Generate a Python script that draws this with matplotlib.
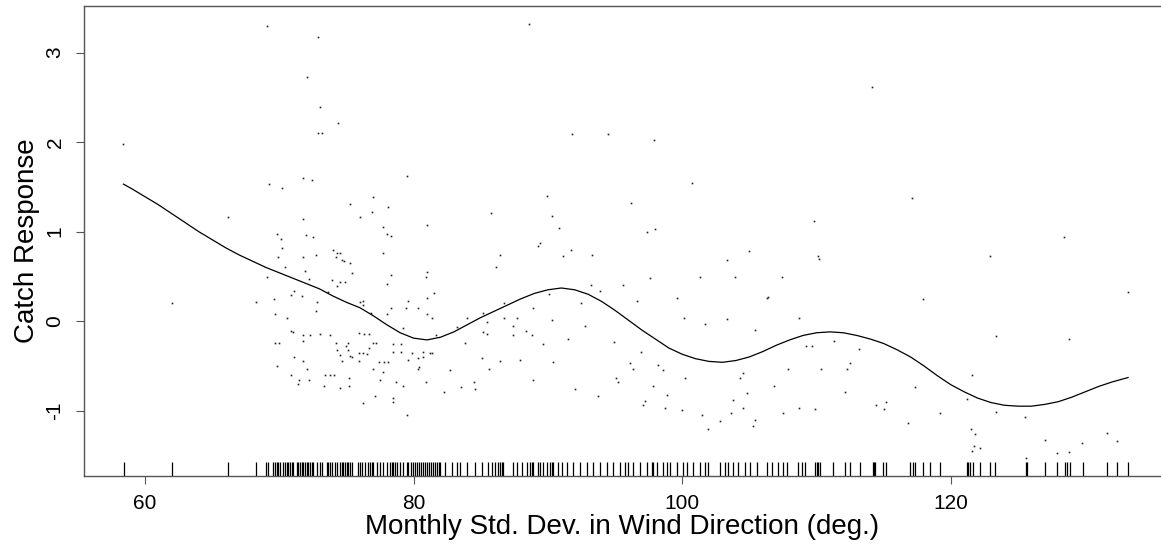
import matplotlib
matplotlib.use("Agg")
import matplotlib.pyplot as plt
import matplotlib.transforms as mtransforms

plt.rcParams['font.family'] = ['Liberation Sans', 'DejaVu Sans']

# fitted smooth
smooth_x = [58.4, 59, 60, 61, 62, 63, 64, 65, 66, 67, 68, 69, 70, 71, 72, 73, 74, 75,
            76, 77, 78, 79, 80, 81, 82, 83, 84, 85, 86, 87, 88, 89, 90, 91, 92, 93, 94,
            95, 96, 97, 98, 99, 100, 101, 102, 103, 104, 105, 106, 107, 108, 109, 110,
            111, 112, 113, 114, 115, 116, 117, 118, 119, 120, 121, 122, 123, 124, 125,
            126, 127, 128, 129, 130, 131, 132, 133.2]
smooth_y = [1.53, 1.48, 1.39, 1.30, 1.20, 1.10, 1.00, 0.91, 0.82, 0.74, 0.67, 0.60,
            0.54, 0.48, 0.42, 0.36, 0.28, 0.21, 0.15, 0.06, -0.04, -0.13, -0.19, -0.21,
            -0.18, -0.12, -0.04, 0.04, 0.11, 0.18, 0.25, 0.31, 0.35, 0.37, 0.35, 0.30,
            0.22, 0.12, 0.01, -0.10, -0.20, -0.30, -0.37, -0.42, -0.45, -0.46, -0.44,
            -0.40, -0.34, -0.27, -0.21, -0.16, -0.13, -0.12, -0.13, -0.16, -0.20, -0.25,
            -0.32, -0.40, -0.50, -0.61, -0.71, -0.79, -0.86, -0.91, -0.94, -0.95, -0.95,
            -0.93, -0.90, -0.85, -0.79, -0.73, -0.68, -0.63]

# partial residuals
resid_x = [58.4, 69.1, 72.9, 72.1, 73.0, 72.9, 73.2, 74.4, 69.2, 70.2, 71.8, 72.4, 66.2,
           75.3, 77.0, 78.1, 76.0, 76.9, 71.8, 69.8, 70.1, 72.0, 72.5, 77.7, 78.0, 70.2,
           69.9, 71.8, 72.7, 74.0, 74.3, 74.5, 74.2, 74.7, 75.3, 77.7, 70.4, 71.9, 79.5,
           78.3, 78.3, 78.0, 71.7, 72.8, 69.6, 68.3, 76.2, 78.3, 79.4, 73.9, 74.5, 74.9,
           74.3, 73.6, 71.1, 70.9, 72.2, 69.1, 74.8, 75.4,
           76.2, 78.0, 69.7, 70.6, 72.7, 71.0, 71.8, 72.3, 73.0, 73.8, 71.8, 69.7, 70.0,
           74.2, 75.1, 75.9, 76.3, 76.7, 77.0, 77.2, 76.7, 78.5, 79.1, 79.2, 75.0, 74.3,
           75.1, 75.9, 76.2, 76.5, 74.5, 75.3, 75.4, 75.9, 74.7, 71.1, 71.8, 69.8, 72.1,
           77.4, 77.8, 78.1, 78.5, 79.1, 77.0, 77.7, 70.9, 73.4, 73.8, 74.1, 72.2, 71.5,
           71.4, 75.2, 77.5, 78.7, 79.2, 73.3, 74.5, 75.2, 77.1, 78.5, 78.5, 76.2, 79.5,
           62.0, 70.9, 76.0, 76.8,
           89.9, 85.8, 81.0, 90.3, 90.8, 89.4, 89.3, 86.4, 91.1, 86.1, 81.0, 80.9, 81.5,
           81.0, 80.3, 86.7, 88.9, 90.1, 79.6,
           81.0, 81.4, 84.0, 85.2, 85.5, 86.7, 87.7, 90.3, 83.2, 85.2, 85.5, 87.4, 88.4,
           88.8, 87.4, 81.7, 83.8, 89.6, 91.5, 79.9, 80.7, 81.2, 81.4, 79.6, 80.3, 80.7,
           85.1, 86.4, 87.9, 90.4, 80.4, 80.3, 82.7, 85.6, 80.9, 84.5, 88.9, 83.5, 84.6,
           82.3,
           88.6, 91.8, 94.5, 97.9, 100.7, 96.2, 97.4, 98.0, 91.7, 93.3, 103.3, 105.0,
           101.3, 103.9, 97.6,
           114.1, 117.1, 109.8, 110.1, 110.2, 122.9, 128.4, 107.4,
           93.2, 106.4, 93.9, 95.6, 96.6, 99.6, 92.5, 100.1, 101.7, 103.3, 105.4, 92.8,
           94.9, 96.9, 96.1, 98.2, 96.3, 95.1, 95.2, 98.6, 98.9, 100.2, 97.8, 93.7, 92.0,
           97.2, 98.7, 97.1, 100.0, 101.5, 102.8, 101.9, 103.8, 104.3, 104.5, 105.4,
           105.3, 103.6, 104.8, 104.5,
           106.3, 117.9, 133.2, 108.7, 123.4, 128.8, 109.2, 109.7, 111.3, 113.2, 107.9,
           110.3, 112.3, 112.5, 106.8, 112.1, 117.3, 121.6, 114.4, 115.2, 115.0, 108.7,
           109.9, 107.5, 119.2, 116.8, 121.2, 123.4, 125.5, 121.5, 121.8, 121.7, 122.2,
           121.6, 127.0, 127.9, 128.8, 129.8, 131.6, 132.4, 125.6]
resid_y = [1.98, 3.30, 3.17, 2.73, 2.39, 2.10, 2.10, 2.21, 1.53, 1.49, 1.60, 1.58, 1.16,
           1.31, 1.39, 1.28, 1.16, 1.22, 1.14, 0.97, 0.92, 0.96, 0.94, 1.05, 0.97, 0.82,
           0.72, 0.72, 0.74, 0.79, 0.76, 0.76, 0.72, 0.68, 0.65, 0.76, 0.60, 0.56, 1.62,
           0.95, 0.51, 0.42, 0.28, 0.21, 0.25, 0.21, 0.23, 0.15, 0.15, 0.46, 0.44, 0.44,
           0.39, 0.32, 0.34, 0.29, 0.47, 0.49, 0.67, 0.54,
           0.18, 0.08, 0.08, 0.03, 0.11, -0.12, -0.16, -0.16, -0.14, -0.16, -0.22, -0.24,
           -0.24, -0.24, -0.24, -0.13, -0.14, -0.14, -0.24, -0.24, -0.30, -0.26, -0.26,
           -0.08, -0.28, -0.32, -0.32, -0.36, -0.36, -0.37, -0.38, -0.39, -0.40, -0.45,
           -0.45, -0.40, -0.45, -0.50, -0.53, -0.46, -0.46, -0.46, -0.34, -0.34, -0.54,
           -0.57, -0.60, -0.60, -0.60, -0.60, -0.66, -0.66, -0.70, -0.63, -0.66, -0.68,
           -0.73, -0.73, -0.75, -0.73, -0.84, -0.86, -0.90, -0.92, -1.05,
           0.20, -0.11, 0.21, 0.09,
           1.40, 1.21, 1.07, 1.17, 1.04, 0.87, 0.84, 0.74, 0.73, 0.60, 0.55, 0.49, 0.31,
           0.26, 0.15, 0.20, 0.15, 0.30, 0.23,
           0.08, 0.04, 0.03, 0.09, -0.01, 0.04, 0.04, 0.01, -0.07, -0.12, -0.14, -0.06,
           -0.11, -0.15, -0.16, -0.15, -0.24, -0.26, -0.20, -0.36, -0.34, -0.36, -0.36,
           -0.43, -0.41, -0.40, -0.41, -0.45, -0.43, -0.46, -0.51, -0.54, -0.55, -0.54,
           -0.68, -0.68, -0.66, -0.74, -0.76, -0.79,
           3.32, 2.09, 2.09, 2.02, 1.54, 1.32, 0.99, 1.03, 0.79, 0.74, 0.68, 0.78, 0.49,
           0.49, 0.48,
           2.61, 1.37, 1.12, 0.73, 0.69, 0.73, 0.94, 0.49,
           0.40, 0.27, 0.34, 0.40, 0.22, 0.26, 0.20, 0.03, -0.03, 0.02, -0.10, -0.05,
           -0.23, -0.35, -0.47, -0.49, -0.54, -0.64, -0.68, -0.55, -0.83, -0.63, -0.72,
           -0.84, -0.76, -0.89, -0.97, -0.94, -0.99, -1.05, -1.12, -1.20, -0.88, -0.63,
           -0.97, -1.11, -1.17, -1.03, -0.80, -0.58,
           0.26, 0.25, 0.33, 0.04, -0.17, -0.20, -0.28, -0.28, -0.22, -0.31, -0.53, -0.54,
           -0.54, -0.47, -0.73, -0.79, -0.74, -0.60, -0.94, -0.90, -0.98, -0.97, -0.98,
           -1.03, -1.03, -1.14, -0.87, -1.02, -1.07, -1.20, -1.26, -1.40, -1.42, -1.45,
           -1.33, -1.47, -1.46, -1.36, -1.25, -1.34, -1.53]

# rug of observed x values
rug_x = [58.44, 62.01, 66.18, 68.27,
         69.01, 69.18, 69.55, 69.68, 69.81, 69.93, 70.05, 70.30, 70.42, 70.55, 70.67,
         70.80, 70.92, 71.04, 71.30, 71.41, 71.54, 71.67, 71.79, 71.91, 72.04, 72.16,
         72.29, 72.41, 72.53, 72.78, 73.03, 73.16, 73.53, 73.65, 73.78, 73.90, 74.15,
         74.27, 74.52, 74.65, 74.77, 74.89, 75.02, 75.14, 75.27, 75.39, 75.88, 76.01,
         76.14, 76.38, 76.63, 76.76, 76.88, 77.00, 77.25, 77.50, 77.75, 78.00, 78.24,
         78.37, 78.49, 78.61, 78.74, 78.99, 79.23, 79.49, 79.61,
         79.81, 79.96, 80.11, 80.26, 80.41, 80.56, 80.71, 80.86, 81.01, 81.16, 81.31,
         81.46, 81.61, 81.76, 81.89,
         81.97, 82.34, 82.86, 83.23, 83.46, 83.98, 84.57, 85.10, 85.54, 85.84, 86.06,
         86.28, 86.43, 86.58, 86.66, 87.40, 87.70, 88.07, 88.45, 88.67, 88.82, 88.89,
         89.26, 89.41, 89.64, 89.93, 90.16, 90.31, 90.38, 90.75, 91.05, 91.42,
         91.89, 92.39, 92.89, 93.38, 93.88, 94.38, 94.87, 95.37, 95.74, 95.99, 96.36,
         96.86, 97.36, 97.73, 97.85, 98.10, 98.59, 98.85, 99.09, 99.59, 100.08, 100.33,
         100.83, 101.33, 101.70, 101.95, 102.82, 103.19, 103.44, 103.81, 104.18, 104.68,
         105.05, 105.55, 106.29, 106.67, 107.16,
         107.53, 107.78, 108.65, 108.90, 109.15, 109.89, 110.02, 110.14, 110.26, 111.25,
         112.13, 112.50, 113.24, 114.24, 114.31, 114.38, 114.98, 115.18, 116.96, 117.21,
         117.34, 117.96, 118.45, 119.20, 121.19, 121.30, 121.43, 121.68, 122.17, 122.92,
         123.29, 125.60, 125.65, 127.01, 127.89, 128.51, 128.63, 128.88, 129.82, 131.61,
         132.36, 133.22]

x_ticks = [60, 80, 100, 120]
y_ticks = [-1, 0, 1, 2, 3]

fig = plt.figure(figsize=(11.61, 5.48), dpi=100)
ax = fig.add_axes([84 / 1161, 72 / 548, 1 - 84 / 1161, 470 / 548])

ax.plot(resid_x, resid_y, 's', ms=1.2, mew=0, color='#222222')
ax.plot(smooth_x, smooth_y, '-', lw=0.9, color='black')

# rug along bottom
trans = mtransforms.blended_transform_factory(ax.transData, ax.transAxes)
ax.vlines(rug_x, 0, 0.03, transform=trans, colors='black', lw=0.9)

ax.set_xlim(55.46, 135.65)
ax.set_ylim(-1.73, 3.52)

ax.spines['right'].set_visible(False)
for s in ['left', 'top', 'bottom']:
    ax.spines[s].set_color('#555555')
    ax.spines[s].set_linewidth(1.0)

ax.set_xticks(x_ticks)
ax.set_yticks(y_ticks)
ax.set_yticklabels([str(v) for v in y_ticks], rotation=90, va='center')
ax.tick_params(axis='both', length=6, width=0.8, color='#555555', labelsize=15)
ax.tick_params(axis='x', pad=7)
ax.tick_params(axis='y', pad=8)

ax.set_xlabel('Monthly Std. Dev. in Wind Direction (deg.)', fontsize=20, labelpad=1)
ax.set_ylabel('Catch Response', fontsize=20, labelpad=4)

fig.savefig('out.png', dpi=100)
